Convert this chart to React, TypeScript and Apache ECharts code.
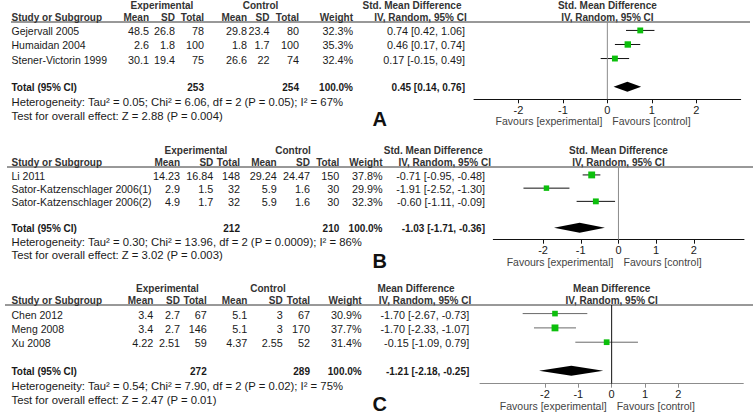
import React, { useEffect, useRef } from 'react';
import * as echarts from 'echarts';

// ---------- data ----------
const panelIds = ['A', 'B', 'C'];
const effectLabels = ['Std. Mean Difference', 'Std. Mean Difference', 'Mean Difference'];
const studyNames = [
  ['Gejervall 2005', 'Humaidan 2004', 'Stener-Victorin 1999'],
  ['Li 2011', 'Sator-Katzenschlager 2006(1)', 'Sator-Katzenschlager 2006(2)'],
  ['Chen 2012', 'Meng 2008', 'Xu 2008'],
];
const expMean = [[48.5, 2.6, 30.1], [14.23, 2.9, 4.9], [3.4, 3.4, 4.22]];
const expSD = [[26.8, 1.8, 19.4], [16.84, 1.5, 1.7], [2.7, 2.7, 2.51]];
const expTotal = [[78, 100, 75], [148, 32, 32], [67, 146, 59]];
const ctlMean = [[29.8, 1.8, 26.6], [29.24, 5.9, 5.9], [5.1, 5.1, 4.37]];
const ctlSD = [[23.4, 1.7, 22], [24.47, 1.6, 1.6], [3, 3, 2.55]];
const ctlTotal = [[80, 100, 74], [150, 30, 30], [67, 170, 52]];
const weights = [[32.3, 35.3, 32.4], [37.8, 29.9, 32.3], [30.9, 37.7, 31.4]];
const effect = [[0.74, 0.46, 0.17], [-0.71, -1.91, -0.6], [-1.7, -1.7, -0.15]];
const ciLow = [[0.42, 0.17, -0.15], [-0.95, -2.52, -1.11], [-2.67, -2.33, -1.09]];
const ciHigh = [[1.06, 0.74, 0.49], [-0.48, -1.3, -0.09], [-0.73, -1.07, 0.79]];
const totalExp = [253, 212, 272];
const totalCtl = [254, 210, 289];
const pooled = [0.45, -1.03, -1.21];
const pooledLow = [0.14, -1.71, -2.18];
const pooledHigh = [0.76, -0.36, -0.25];
const tau2 = ['0.05', '0.30', '0.54'];
const chi2 = ['6.06', '13.96', '7.90'];
const dfs = [2, 2, 2];
const pHet = ['0.05', '0.0009', '0.02'];
const i2 = [67, 86, 75];
const zVals = ['2.88', '3.02', '2.47'];
const pZ = ['0.004', '0.003', '0.01'];
const tickValues = [-2, -1, 0, 1, 2];
const colHeads = ['Mean', 'SD', 'Total', 'Mean', 'SD', 'Total', 'Weight'];

// ---------- layout ----------
const layout = [
  { top: 22, bottom: 99.3, left: 474, right: 740.7, min: -3, max: 3, lineX1: 11, lineX2: 750,
    cols: [149, 175, 204, 247, 269.5, 299, 353], ciRight: 465, expC: 162, ctlC: 260.5, ciH1: 412, ciH2: 420.5,
    axisColor: '#111', zeroColor: '#8c8c8c', barColor: '#111', letterY: 119 },
  { top: 167, bottom: 239.7, left: 493.3, right: 744, min: -3.32, max: 3.33, lineX1: 7, lineX2: 753,
    cols: [180, 213.3, 240, 276.7, 310, 339.3, 382.5], ciRight: 485, expC: 196, ctlC: 293, ciH1: 433.3, ciH2: 444.7,
    axisColor: '#111', zeroColor: '#8c8c8c', barColor: '#111', letterY: 261 },
  { top: 305, bottom: 383.7, left: 480, right: 743.3, min: -3.95, max: 3.95, lineX1: 5, lineX2: 753,
    cols: [153.3, 180, 206.7, 247.3, 282.7, 310, 361.7], ciRight: 469.3, expC: 167.5, ctlC: 268, ciH1: 416, ciH2: 425,
    axisColor: '#8c8c8c', zeroColor: '#111', barColor: '#6a6a6a', letterY: 404 },
];
const Y_MIN = 0.4;
const Y_MAX = 5.9;
const FONT = '"Liberation Sans", Arial, Helvetica, sans-serif';
const FS_NAME = 10.5;
const FS_NUM = 10.8;
const FS_STAT = 11.3;
const FS_HEAD = 10;
const FS_COLHEAD = 10;

function rowY(p: number, r: number) {
  const l = layout[p];
  return l.top + ((r - Y_MIN) / (Y_MAX - Y_MIN)) * (l.bottom - l.top);
}
function zeroX(p: number) {
  const l = layout[p];
  return l.left + ((0 - l.min) / (l.max - l.min)) * (l.right - l.left);
}
function ci(e: number, lo: number, hi: number) {
  return `${e.toFixed(2)} [${lo.toFixed(2)}, ${hi.toFixed(2)}]`;
}
function txt(text: string, x: number, y: number, align: string, size: number, opts: any = {}) {
  return {
    type: 'text',
    x,
    y,
    silent: true,
    style: {
      text,
      x: 0,
      y: 0,
      textAlign: align,
      textVerticalAlign: 'middle',
      verticalAlign: 'middle',
      fontFamily: FONT,
      fontSize: size,
      fontWeight: opts.bold ? 'bold' : 'normal',
      fill: opts.color || '#1a1a1a',
    },
  };
}

function buildOption() {
  const grid: any[] = [];
  const xAxis: any[] = [];
  const yAxis: any[] = [];
  const series: any[] = [];
  const graphic: any[] = [];

  layout.forEach((l, p) => {
    grid.push({ left: l.left, top: l.top, width: l.right - l.left, height: l.bottom - l.top, containLabel: false, outerBoundsMode: 'none' });
    xAxis.push({
      type: 'value', gridIndex: p, min: l.min, max: l.max,
      axisLine: { show: true, onZero: false, lineStyle: { color: l.axisColor, width: 1 } },
      axisTick: { show: true, length: 4, customValues: tickValues, lineStyle: { color: l.axisColor } },
      axisLabel: { customValues: tickValues, fontSize: 11, color: '#1a1a1a', margin: 5, fontFamily: FONT },
      splitLine: { show: false },
    });
    yAxis.push({ type: 'value', gridIndex: p, min: Y_MIN, max: Y_MAX, inverse: true, show: false });

    // zero line
    series.push({
      type: 'line', xAxisIndex: p, yAxisIndex: p, symbol: 'none', silent: true,
      lineStyle: { color: l.zeroColor, width: 1 },
      data: [[0, Y_MIN], [0, Y_MAX]],
    });

    // individual studies: CI line + weighted square
    const studyData = effect[p].map((e, i) => [e, ciLow[p][i], ciHigh[p][i], i + 1, weights[p][i] / 5.5]);
    series.push({
      type: 'custom', xAxisIndex: p, yAxisIndex: p, silent: true,
      encode: { x: [0, 1, 2], y: 3 },
      data: studyData,
      renderItem: (params: any, api: any) => {
        const row = api.value(3);
        const size = api.value(4);
        const c = api.coord([api.value(0), row]);
        const lo = api.coord([api.value(1), row]);
        const hi = api.coord([api.value(2), row]);
        return {
          type: 'group',
          children: [
            { type: 'line', shape: { x1: lo[0], y1: c[1], x2: hi[0], y2: c[1] }, style: { stroke: l.barColor, lineWidth: 1 } },
            { type: 'rect', shape: { x: c[0] - size / 2, y: c[1] - size / 2, width: size, height: size }, style: { fill: '#0cbf0c' } },
          ],
        };
      },
    });

    // pooled diamond
    series.push({
      type: 'custom', xAxisIndex: p, yAxisIndex: p, silent: true,
      encode: { x: [0, 1, 2], y: 3 },
      data: [[pooled[p], pooledLow[p], pooledHigh[p], 5]],
      renderItem: (params: any, api: any) => {
        const row = api.value(3);
        const c = api.coord([api.value(0), row]);
        const lo = api.coord([api.value(1), row]);
        const hi = api.coord([api.value(2), row]);
        const h = 5;
        return {
          type: 'polygon',
          shape: { points: [[lo[0], c[1]], [c[0], c[1] - h], [hi[0], c[1]], [c[0], c[1] + h]] },
          style: { fill: '#000' },
        };
      },
    });

    // header rule
    graphic.push({ type: 'line', silent: true, shape: { x1: l.lineX1, y1: l.top, x2: l.lineX2, y2: l.top }, style: { stroke: '#333', lineWidth: 1 } });

    const zx = zeroX(p);
    const hg = l.top - 17;
    const hc = l.top - 4.5;
    const hcol = '#333';
    graphic.push(txt('Experimental', l.expC, hg, 'center', FS_HEAD, { bold: true, color: hcol }));
    graphic.push(txt('Control', l.ctlC, hg, 'center', FS_HEAD, { bold: true, color: hcol }));
    graphic.push(txt(effectLabels[p], l.ciH1, hg, 'center', FS_HEAD, { bold: true, color: hcol }));
    graphic.push(txt(effectLabels[p], zx, hg, 'center', FS_HEAD, { bold: true, color: hcol }));
    graphic.push(txt('Study or Subgroup', 11.5, hc, 'left', FS_HEAD, { bold: true, color: hcol }));
    colHeads.forEach((h, k) => graphic.push(txt(h, l.cols[k], hc, 'right', FS_COLHEAD, { bold: true, color: hcol })));
    graphic.push(txt('IV, Random, 95% CI', l.ciH2, hc, 'center', FS_HEAD, { bold: true, color: hcol }));
    graphic.push(txt('IV, Random, 95% CI', zx, hc, 'center', FS_HEAD, { bold: true, color: hcol }));

    studyNames[p].forEach((name, i) => {
      const y = rowY(p, i + 1) + 1;
      const vals = [expMean[p][i], expSD[p][i], expTotal[p][i], ctlMean[p][i], ctlSD[p][i], ctlTotal[p][i]];
      graphic.push(txt(name, 11.5, y, 'left', FS_NAME));
      vals.forEach((v, k) => graphic.push(txt(String(v), l.cols[k], y, 'right', FS_NUM)));
      graphic.push(txt(weights[p][i].toFixed(1) + '%', l.cols[6], y, 'right', FS_NUM));
      graphic.push(txt(ci(effect[p][i], ciLow[p][i], ciHigh[p][i]), l.ciRight, y, 'right', FS_NUM));
    });

    const ty = rowY(p, 5) + 1;
    graphic.push(txt('Total (95% CI)', 11.5, ty, 'left', FS_HEAD, { bold: true }));
    graphic.push(txt(String(totalExp[p]), l.cols[2], ty, 'right', FS_HEAD, { bold: true }));
    graphic.push(txt(String(totalCtl[p]), l.cols[5], ty, 'right', FS_HEAD, { bold: true }));
    graphic.push(txt('100.0%', l.cols[6], ty, 'right', FS_HEAD, { bold: true }));
    graphic.push(txt(ci(pooled[p], pooledLow[p], pooledHigh[p]), l.ciRight, ty, 'right', FS_HEAD, { bold: true }));
    const step = rowY(p, 2) - rowY(p, 1);
    graphic.push(txt(`Heterogeneity: Tau² = ${tau2[p]}; Chi² = ${chi2[p]}, df = ${dfs[p]} (P = ${pHet[p]}); I² = ${i2[p]}%`, 11.5, ty + step, 'left', FS_STAT));
    graphic.push(txt(`Test for overall effect: Z = ${zVals[p]} (P = ${pZ[p]})`, 11.5, ty + 2 * step, 'left', FS_STAT));

    graphic.push(txt('Favours [experimental]', zx - 5, l.bottom + 22, 'right', 10.5, { color: '#444' }));
    graphic.push(txt('Favours [control]', zx + 5, l.bottom + 22, 'left', 10.5, { color: '#444' }));
    graphic.push(txt(panelIds[p], 372.5, l.letterY, 'left', 20, { bold: true, color: '#111' }));
  });

  return { animation: false, backgroundColor: '#fff', grid, xAxis, yAxis, series, graphic };
}

export default function App() {
  const ref = useRef<HTMLDivElement>(null);
  useEffect(() => {
    if (!ref.current) return;
    const chart = echarts.init(ref.current, null, { renderer: 'svg' });
    chart.setOption(buildOption() as any);
    return () => chart.dispose();
  }, []);
  return <div ref={ref} style={{ position: 'fixed', left: 0, top: 0, width: 753, height: 416, background: '#fff' }} />;
}
